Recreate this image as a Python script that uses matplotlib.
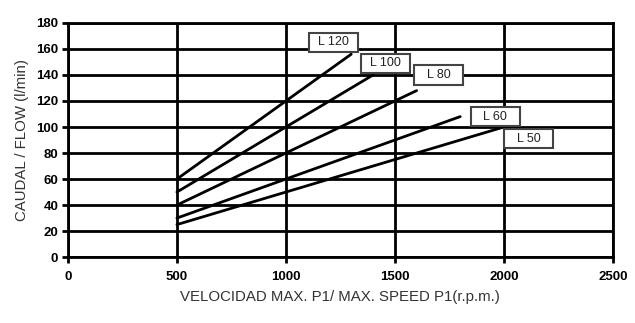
import matplotlib.pyplot as plt
from matplotlib.patches import Rectangle

plt.rcParams['font.family'] = ['Liberation Sans', 'DejaVu Sans']

# line name, start/end rpm and flow
names = ['L 120', 'L 100', 'L 80', 'L 60', 'L 50']
start_rpm = [500, 500, 500, 500, 500]
end_rpm = [1300, 1400, 1600, 1800, 2000]
flow_start = [60, 50, 40, 30, 25]
flow_end = [156, 140, 128, 108, 100]
label_x = [1220, 1455, 1700, 1960, 2115]
label_y = [165, 149, 140, 108, 91]

fig = plt.figure(figsize=(6.35, 3.23), dpi=100)
ax = fig.add_axes([0.107, 0.204, 0.858, 0.725])

box_w, box_h = 225, 15
for i in range(len(names)):
    ax.plot([start_rpm[i], end_rpm[i]], [flow_start[i], flow_end[i]],
            color='black', lw=2, solid_capstyle='round', zorder=3)
    ax.add_patch(Rectangle((label_x[i] - box_w / 2, label_y[i] - box_h / 2), box_w, box_h,
                           fc='white', ec='#444444', lw=1.5, zorder=4))
    ax.text(label_x[i], label_y[i], names[i], ha='center', va='center',
            fontsize=9, color='#222222', zorder=5)

ax.set_xlim(0, 2500)
ax.set_ylim(0, 180)
ax.set_xticks(range(0, 2501, 500))
ax.set_yticks(range(0, 181, 20))
ax.grid(True, color='black', lw=2)
ax.set_axisbelow(True)
for s in ax.spines.values():
    s.set_linewidth(2)
ax.tick_params(length=4, width=2, labelsize=9.5, pad=3)
for lab in ax.get_xticklabels() + ax.get_yticklabels():
    lab.set_fontweight('bold')
ax.tick_params(axis='x', pad=6)

ax.set_xlabel('VELOCIDAD MAX. P1/ MAX. SPEED P1(r.p.m.)', fontsize=10.8, color='#333333', labelpad=5)
ax.set_ylabel('CAUDAL / FLOW (l/min)', fontsize=10.8, color='#333333', labelpad=5)

plt.savefig('out.png', dpi=100)
